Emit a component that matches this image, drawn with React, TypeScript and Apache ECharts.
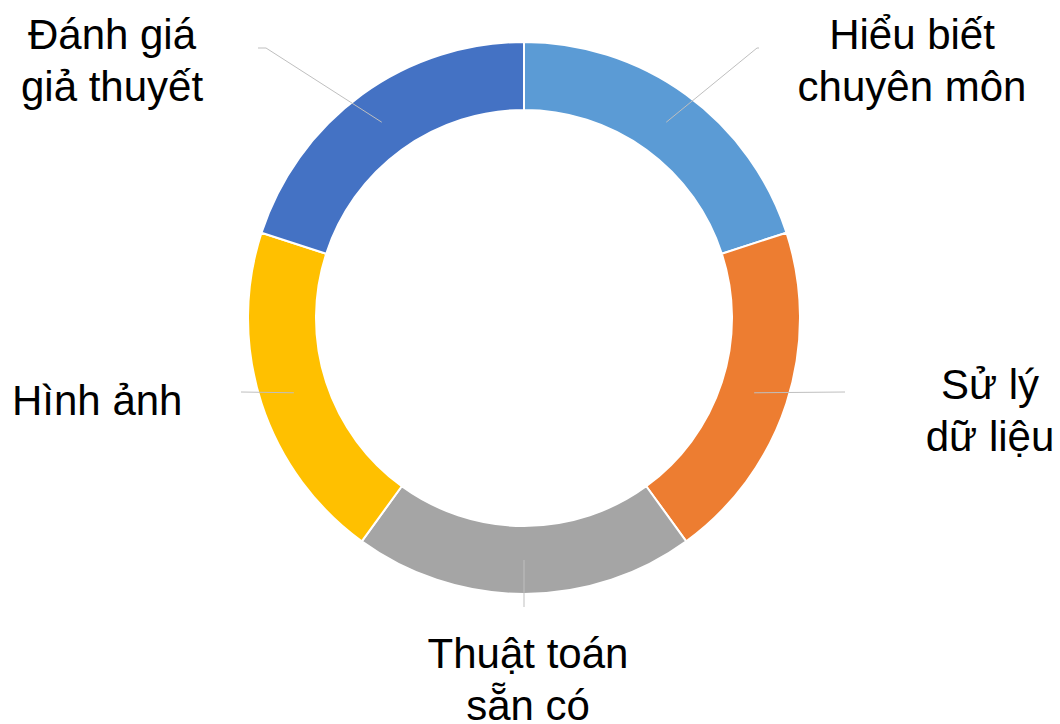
import React, { useEffect, useRef } from "react";
import * as echarts from "echarts";

const categories = [
  "Hiểu biết\nchuyên môn",
  "Sử lý\ndữ liệu",
  "Thuật toán\nsẵn có",
  "Hình ảnh",
  "Đánh giá\ngiả thuyết",
];
const values = [1, 1, 1, 1, 1];
const colors = ["#5B9BD5", "#ED7D31", "#A5A5A5", "#FFC000", "#4472C4"];

// label layout (positions of label blocks and leader-line bends), not data
const labelPos: [number, number, string][] = [
  [912, 60, "center"],
  [990, 410, "center"],
  [528, 679, "center"],
  [12, 400, "left"],
  [112, 60, "center"],
];
const lineBends: number[][][] = [
  [[757, 48], [759, 48]],
  [[845, 392]],
  [[524, 607]],
  [[241, 392]],
  [[266, 48], [258, 48]],
];

const CX = 524;
const CY = 318;
const R_IN = 208;
const R_OUT = 276;

export default function App() {
  const ref = useRef<HTMLDivElement>(null);
  useEffect(() => {
    if (!ref.current) return;
    const chart = echarts.init(ref.current, null, { renderer: "svg" });
    const total = values.reduce((a, b) => a + b, 0);
    const midAngles: number[] = [];
    let acc = 0;
    values.forEach((v) => {
      const start = 90 - (acc / total) * 360;
      acc += v;
      const end = 90 - (acc / total) * 360;
      midAngles.push(((start + end) / 2) * (Math.PI / 180));
    });
    const rMid = (R_IN + R_OUT) / 2;
    const data = categories.map((name, i) => ({
      name,
      value: values[i],
      itemStyle: { color: colors[i] },
    }));
    chart.setOption({
      animation: false,
      backgroundColor: "#ffffff",
      series: [
        {
          type: "pie",
          z: 2,
          center: [CX, CY],
          radius: [R_IN, R_OUT],
          startAngle: 90,
          clockwise: true,
          silent: true,
          itemStyle: { borderColor: "#ffffff", borderWidth: 2 },
          label: { show: false },
          labelLine: { show: false },
          data,
        },
        {
          type: "pie",
          z: 5,
          center: [CX, CY],
          radius: [R_IN, R_OUT],
          startAngle: 90,
          clockwise: true,
          silent: true,
          itemStyle: { color: "rgba(0,0,0,0)", borderWidth: 0 },
          label: {
            show: true,
            color: "#000000",
            fontFamily: "Liberation Sans, Arial, sans-serif",
            fontSize: 42,
            lineHeight: 52,
          },
          labelLine: {
            show: true,
            lineStyle: { color: "#BFBFBF", width: 1 },
          },
          labelLayout: (params: any) => {
            const i = params.dataIndex;
            const a = midAngles[i];
            const sx = CX + rMid * Math.cos(a);
            const sy = CY - rMid * Math.sin(a);
            const [x, y, align] = labelPos[i];
            return {
              x,
              y,
              align,
              verticalAlign: "middle",
              labelLinePoints: [[sx, sy], ...lineBends[i]],
            };
          },
          data: categories.map((name, i) => ({
            name,
            value: values[i],
            itemStyle: { color: "rgba(0,0,0,0)" },
          })),
        },
      ],
    });
    return () => chart.dispose();
  }, []);
  return (
    <div
      ref={ref}
      style={{ position: "fixed", left: 0, top: 0, width: 1060, height: 724 }}
    />
  );
}
